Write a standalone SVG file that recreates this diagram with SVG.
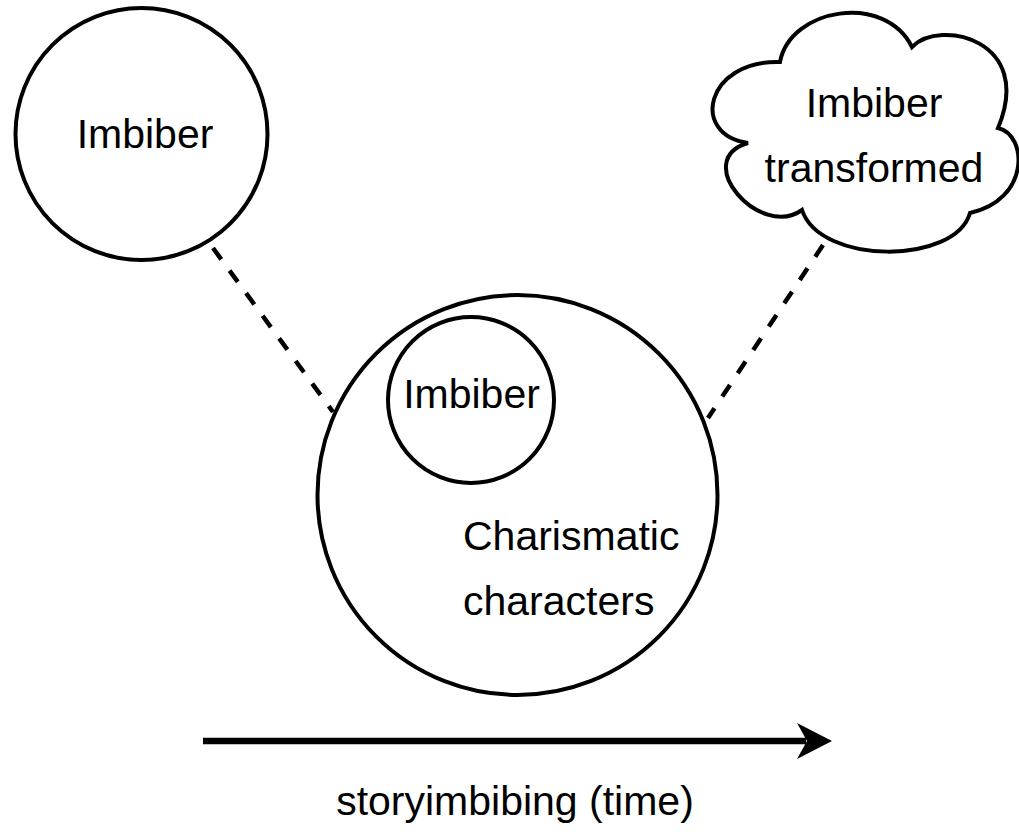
<svg xmlns="http://www.w3.org/2000/svg" width="1019" height="832" viewBox="0 0 1019 832">
  <defs>
    <style>
      .shape { fill: #ffffff; stroke: #000000; stroke-width: 4; }
      .dash { fill: none; stroke: #000000; stroke-width: 4.5; stroke-dasharray: 14 14; }
      .lbl { font-family: "Liberation Sans", Arial, Helvetica, sans-serif; font-size: 41px; fill: #000000; }
      .mid { text-anchor: middle; }
    </style>
  </defs>
  <rect width="1019" height="832" fill="#ffffff"/>

  <g id="connectors">
    <line class="dash" x1="213" y1="248" x2="333" y2="412"/>
    <line class="dash" x1="823" y1="245" x2="708" y2="418"/>
    <line x1="203" y1="741" x2="806" y2="741" stroke="#000000" stroke-width="6.5"/>
    <polygon points="832,741 797,723 807,741 797,759" fill="#000000"/>
  </g>

  <g id="imbiber-left">
    <circle class="shape" cx="141.5" cy="134" r="126"/>
    <text class="lbl mid" x="145" y="148">Imbiber</text>
  </g>

  <g id="charismatic-characters">
    <circle class="shape" cx="517.5" cy="495" r="200"/>
    <text class="lbl" x="463" y="550">Charismatic</text>
    <text class="lbl" x="463" y="615">characters</text>
  </g>

  <g id="imbiber-inner">
    <circle class="shape" cx="471" cy="400" r="83"/>
    <text class="lbl mid" x="471.5" y="408">Imbiber</text>
  </g>

  <g id="imbiber-transformed">
    <path class="shape" d="M 780 62 C 790 8, 885 -8, 912 47 C 940 18, 1035 40, 998 128 C 1028 135, 1030 200, 970 213 C 955 265, 820 265, 802 210 C 760 240, 690 160, 748 143 C 690 135, 705 60, 780 62 Z"/>
    <text class="lbl mid" x="874" y="117">Imbiber</text>
    <text class="lbl mid" x="874" y="182">transformed</text>
  </g>

  <g id="time-axis-label">
    <text class="lbl mid" x="515" y="815">storyimbibing (time)</text>
  </g>
</svg>
